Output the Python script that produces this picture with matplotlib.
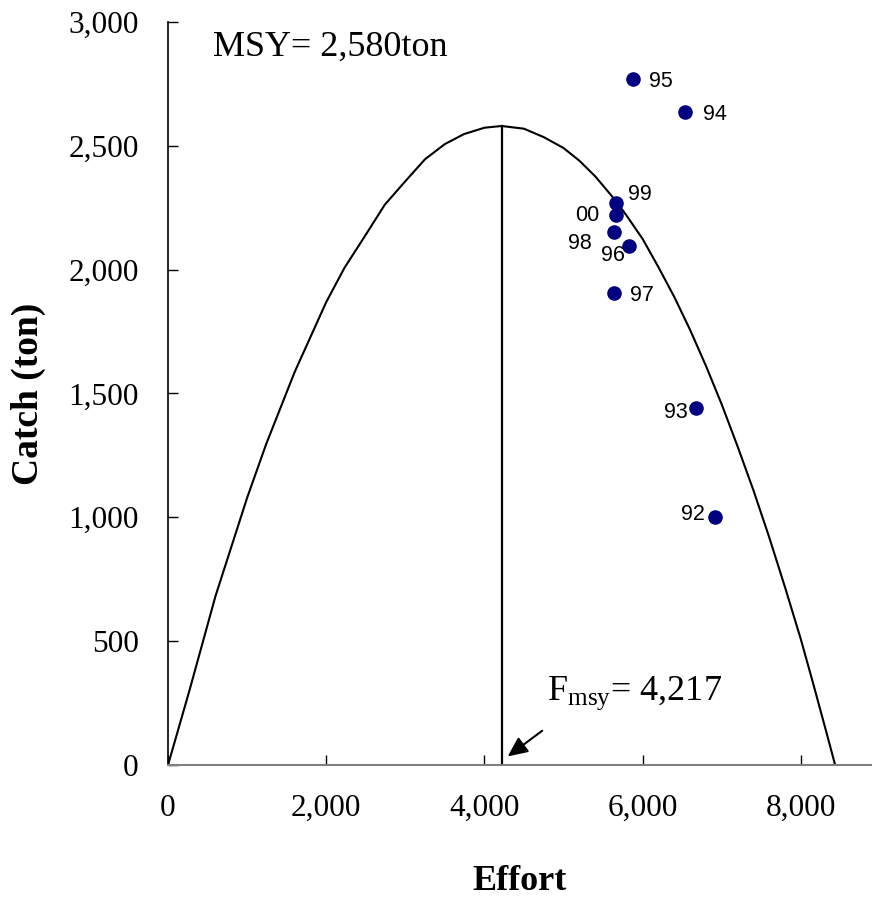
import matplotlib
matplotlib.use("Agg")
import matplotlib.pyplot as plt
from matplotlib.ticker import FuncFormatter

plt.rcParams['mathtext.fontset'] = 'custom'
plt.rcParams['mathtext.rm'] = 'Liberation Serif'
plt.rcParams['mathtext.it'] = 'Liberation Serif:italic'

# production curve
curve_effort = [0, 270, 600, 1000, 1240, 1600, 2000, 2230, 2500, 2740, 3000, 3250, 3500,
                3740, 4000, 4217, 4500, 4750, 5000, 5200, 5400, 5650, 5800, 6000, 6200,
                6400, 6600, 6800, 7000, 7200, 7400, 7600, 7800, 8000, 8150, 8300, 8434]
curve_catch = [0, 300, 682, 1079, 1295, 1586, 1869, 2007, 2141, 2262, 2357, 2446, 2507,
               2547, 2573, 2580, 2569, 2535, 2491, 2440, 2377, 2282, 2217, 2124, 2010,
               1890, 1757, 1612, 1456, 1287, 1110, 920, 718, 508, 336, 160, 0]

# observed years
years = ["95", "94", "99", "00", "98", "96", "97", "93", "92"]
obs_effort = [5873, 6532, 5658, 5658, 5633, 5823, 5633, 6671, 6911]
obs_catch = [2770, 2636, 2269, 2220, 2152, 2095, 1906, 1441, 1001]
lab_offset = [(12, -2, "left"), (13, -2, "left"), (9, 6, "left"), (-12, 0, "right"),
              (-16, -8, "right"), (-3, -7, "right"), (12, -2, "left"), (-6, -3, "right"),
              (-7, 2, "right")]

msy = 2580
fmsy = 4217

fig = plt.figure(figsize=(8.72, 9), dpi=100)
ax = fig.add_axes([0.1927, 0.15, 0.8073, 0.8256])

ax.plot(curve_effort, curve_catch, color="black", lw=1.5)
ax.plot([fmsy, fmsy], [0, msy], color="black", lw=1.6)
ax.scatter(obs_effort, obs_catch, s=90, color="#000080", zorder=3)

for yr, e, c, (dx, dy, ha) in zip(years, obs_effort, obs_catch, lab_offset):
    ax.annotate(yr, (e, c), xytext=(dx, dy), textcoords="offset points",
                ha=ha, va="center", fontsize=15.5, family="Liberation Sans")

ax.text(570, 2899, "MSY= 2,580ton", fontsize=26, family="Liberation Serif",
        va="center", ha="left")
ax.text(4797, 291, r"F$_{\rm msy}$= 4,217", fontsize=26, family="Liberation Serif",
        va="center", ha="left")
ax.annotate("", xy=(4266, 28), xytext=(4759, 145),
            arrowprops=dict(arrowstyle="-|>,head_length=1.2,head_width=0.55",
                            color="black", lw=1.5))

ax.set_xlim(0, 8900)
ax.set_ylim(0, 3000)
ax.set_xticks([0, 2000, 4000, 6000, 8000])
ax.set_yticks([0, 500, 1000, 1500, 2000, 2500, 3000])
fmt = FuncFormatter(lambda v, p: f"{int(v):,}")
ax.xaxis.set_major_formatter(fmt)
ax.yaxis.set_major_formatter(fmt)

ax.spines["top"].set_visible(False)
ax.spines["right"].set_visible(False)
ax.spines["bottom"].set_color("#808080")
ax.spines["bottom"].set_linewidth(1.5)
ax.spines["left"].set_linewidth(1.2)
ax.tick_params(direction="in", length=7, width=1, labelsize=22.5, pad=21)
for lab in ax.get_xticklabels() + ax.get_yticklabels():
    lab.set_family("Liberation Serif")

ax.set_xlabel("Effort", fontsize=26, fontweight="bold", family="Liberation Serif", labelpad=30)
ax.set_ylabel("Catch (ton)", fontsize=27, fontweight="bold", family="Liberation Serif", labelpad=16)

fig.savefig("out.png", dpi=100)
